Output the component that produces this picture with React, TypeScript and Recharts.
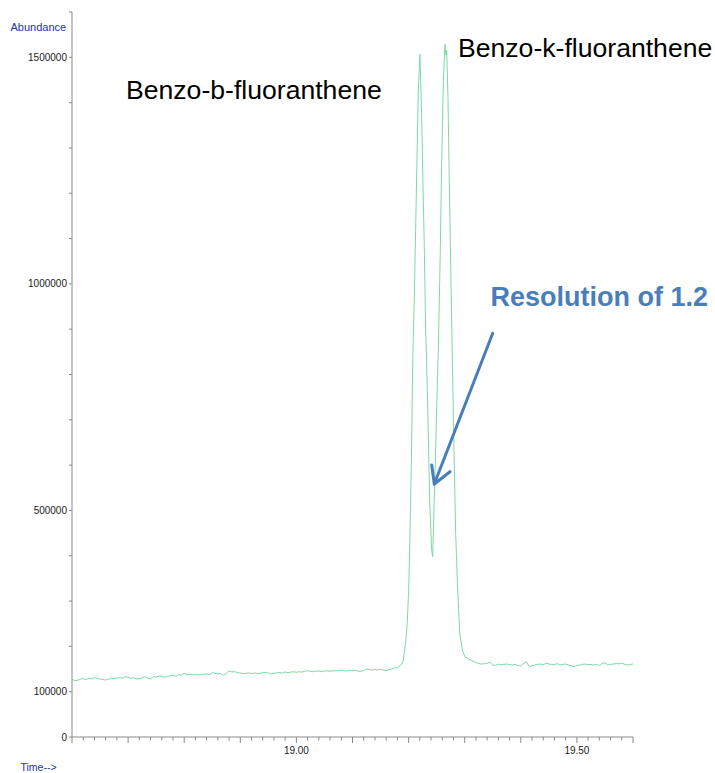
import { LineChart, Line, XAxis, YAxis } from 'recharts';

// [retention time (min), abundance] — baseline before the pair
const leadIn: [number, number][] = [
  [18.600, 127200], [18.605, 124300], [18.610, 125000], [18.615, 127900], [18.620, 128400],
  [18.625, 127100], [18.630, 129400], [18.635, 128000], [18.640, 130900], [18.645, 129200],
  [18.650, 128000], [18.655, 127000], [18.660, 125700], [18.665, 127500], [18.670, 129400],
  [18.675, 128600], [18.680, 130200], [18.685, 130900], [18.690, 129800], [18.695, 133100],
  [18.700, 131500], [18.705, 130000], [18.710, 130400], [18.715, 128600], [18.720, 127900],
  [18.725, 130200], [18.730, 133100], [18.735, 129500], [18.740, 128000], [18.745, 133100],
  [18.750, 132400], [18.755, 134600], [18.760, 133800], [18.765, 131900], [18.770, 133100],
  [18.775, 135300], [18.780, 136100], [18.785, 134200], [18.790, 137500], [18.795, 136600],
  [18.800, 140400], [18.805, 137500], [18.810, 138400], [18.815, 137000], [18.820, 138000],
  [18.825, 136600], [18.830, 137500], [18.835, 138800], [18.840, 139000], [18.845, 137900],
  [18.850, 141900], [18.855, 140600], [18.860, 139000], [18.865, 140300], [18.870, 136000],
  [18.875, 140400], [18.880, 145600], [18.885, 143500], [18.890, 144100], [18.895, 142200],
  [18.900, 141000], [18.905, 140000], [18.910, 140400], [18.915, 141600], [18.920, 139800],
  [18.925, 141200], [18.930, 140000], [18.935, 140400], [18.940, 141800], [18.945, 142600],
  [18.950, 141000], [18.955, 139600], [18.960, 140400], [18.965, 141500], [18.970, 142600],
  [18.975, 140900], [18.980, 143400], [18.985, 142000], [18.990, 143200], [18.995, 144100],
  [19.000, 142700], [19.005, 144100], [19.010, 143300], [19.015, 145000], [19.020, 146300],
  [19.025, 144600], [19.030, 144100], [19.035, 145200], [19.040, 145600], [19.045, 144000],
  [19.050, 145600], [19.055, 146400], [19.060, 145100], [19.065, 146300], [19.070, 145800],
  [19.075, 147000], [19.080, 147800], [19.085, 146500], [19.090, 145600], [19.095, 147200],
  [19.100, 146300], [19.105, 147600], [19.110, 145200], [19.115, 144800], [19.120, 147000],
  [19.125, 150000], [19.130, 148600], [19.135, 147800], [19.140, 149000], [19.145, 148100],
  [19.150, 149300], [19.155, 147500], [19.160, 146300], [19.165, 148800], [19.170, 150600],
  [19.175, 152200],
];

// the b / k fluoranthene pair
const peakPair: [number, number][] = [
  [19.1800, 152500], [19.1850, 158000], [19.1887, 162000], [19.1905, 170000], [19.1930, 192000],
  [19.1960, 225000], [19.1975, 250000], [19.2000, 320000], [19.2020, 420000], [19.2050, 610000],
  [19.2077, 853700], [19.2102, 970600], [19.2125, 1118000], [19.2148, 1266000], [19.2173, 1427000],
  [19.2202, 1506600], [19.2232, 1376500], [19.2255, 1228700], [19.2280, 1080900], [19.2304, 897800],
  [19.2316, 853700], [19.2345, 705900], [19.2375, 522800], [19.2411, 412500], [19.2429, 397700],
  [19.2452, 500800], [19.2482, 633100], [19.2512, 780900], [19.2530, 853700], [19.2566, 1080900],
  [19.2589, 1266200], [19.2620, 1449300], [19.2648, 1528700], [19.2665, 1505000], [19.2679, 1515500],
  [19.2702, 1411800], [19.2720, 1266200], [19.2750, 1045600], [19.2780, 831700], [19.2809, 633100],
  [19.2839, 450000], [19.2870, 339700], [19.2911, 229400], [19.2959, 191900], [19.3005, 177100],
  [19.3050, 174000], [19.3100, 170000], [19.3165, 166000], [19.3230, 163000],
];

// baseline after the pair
const tailOut: [number, number][] = [
  [19.325, 162000], [19.330, 161000], [19.335, 161800], [19.340, 162500], [19.345, 165500],
  [19.350, 159000], [19.355, 158000], [19.360, 160600], [19.365, 159500], [19.370, 160400],
  [19.375, 161000], [19.380, 159800], [19.385, 158800], [19.390, 160200], [19.395, 157800],
  [19.400, 156600], [19.405, 162500], [19.410, 166200], [19.415, 155100], [19.420, 157400],
  [19.425, 158800], [19.430, 160500], [19.435, 161000], [19.440, 159600], [19.445, 162500],
  [19.450, 161300], [19.455, 159800], [19.460, 160000], [19.465, 161800], [19.470, 158800],
  [19.475, 160300], [19.480, 161000], [19.485, 159200], [19.490, 157600], [19.495, 155100],
  [19.500, 157900], [19.505, 158800], [19.510, 160400], [19.515, 161000], [19.520, 159500],
  [19.525, 160200], [19.530, 158800], [19.535, 160100], [19.540, 158100], [19.545, 162000],
  [19.550, 164000], [19.555, 158800], [19.560, 160300], [19.565, 161000], [19.570, 162200],
  [19.575, 161500], [19.580, 162500], [19.585, 160700], [19.590, 158800], [19.595, 160000],
  [19.600, 161000],
];

const yTicks = [
  0, 100000, 200000, 300000, 400000, 500000, 600000, 700000, 800000,
  900000, 1000000, 1100000, 1200000, 1300000, 1400000, 1500000, 1600000,
];
const yLabels = [0, 100000, 500000, 1000000, 1500000];

const xMajor = [18.6, 18.7, 18.8, 18.9, 19.0, 19.1, 19.2, 19.3, 19.4, 19.5, 19.6];
const xLabels = [19.0, 19.5];
const xTicks = Array.from({ length: 51 }, (_, i) => Number((18.6 + i * 0.02).toFixed(2)));

const scans = [...leadIn, ...peakPair, ...tailOut].map(([time, abundance]) => ({ time, abundance }));

const AXIS = '#8a8a8a';
const AXIS_BLUE = '#2233aa';
const NOTE_BLUE = '#4a7ebb';

const near = (list: number[], v: number) => list.some((m) => Math.abs(m - v) < 1e-6);

function TimeTick({ x, y, payload }: any) {
  const v = payload.value as number;
  const major = near(xMajor, v);
  return (
    <g>
      <line x1={x} x2={x} y1={y} y2={y + (major ? 6 : 3.5)} stroke={AXIS} strokeWidth={1} />
      {near(xLabels, v) && (
        <text x={x} y={y + 17} textAnchor="middle" fontSize={10} fill="#222">
          {v.toFixed(2)}
        </text>
      )}
    </g>
  );
}

export default function App() {
  return (
    <div
      style={{
        position: 'absolute',
        left: 0,
        top: 0,
        width: 715,
        height: 773,
        background: '#fff',
        fontFamily: '"Liberation Sans", Arial, sans-serif',
      }}
    >
      <LineChart width={715} height={773} data={scans} margin={{ top: 12, right: 82, left: 0, bottom: 0 }}>
        <XAxis
          dataKey="time"
          type="number"
          domain={[18.6, 19.6]}
          ticks={xTicks}
          interval={0}
          height={36}
          tickSize={0}
          tickMargin={0}
          tickLine={false}
          axisLine={{ stroke: AXIS }}
          tick={<TimeTick />}
        />
        <YAxis
          type="number"
          domain={[0, 1600000]}
          ticks={yTicks}
          interval={0}
          width={72}
          tickSize={3}
          tickMargin={2}
          axisLine={{ stroke: AXIS }}
          tickLine={{ stroke: AXIS }}
          tick={{ fontSize: 10, fill: '#222' }}
          tickFormatter={(v: number) => (near(yLabels, v) ? String(v) : '')}
        />
        <Line
          type="linear"
          dataKey="abundance"
          stroke="#7bdba6"
          strokeWidth={1}
          dot={false}
          isAnimationActive={false}
        />
      </LineChart>
      <svg
        width={715}
        height={773}
        style={{ position: 'absolute', left: 0, top: 0, pointerEvents: 'none' }}
      >
        <text x={10.5} y={31} fontSize={11} fill={AXIS_BLUE}>Abundance</text>
        <text x={20.5} y={771} fontSize={10.5} fill={AXIS_BLUE}>Time--&gt;</text>
        <text x={126} y={99} fontSize={26.6} fill="#000">Benzo-b-fluoranthene</text>
        <text x={458} y={57} fontSize={26.6} fill="#000">Benzo-k-fluoranthene</text>
        <text x={490.5} y={306} fontSize={27} fontWeight="bold" fill={NOTE_BLUE}>Resolution of 1.2</text>
        <line x1={492.7} y1={333.3} x2={434.3} y2={484} stroke={NOTE_BLUE} strokeWidth={3} strokeLinecap="round" />
        <polyline
          points="431.7,465 434.3,484 450,471.7"
          fill="none"
          stroke={NOTE_BLUE}
          strokeWidth={3}
          strokeLinecap="round"
          strokeLinejoin="round"
        />
      </svg>
    </div>
  );
}
